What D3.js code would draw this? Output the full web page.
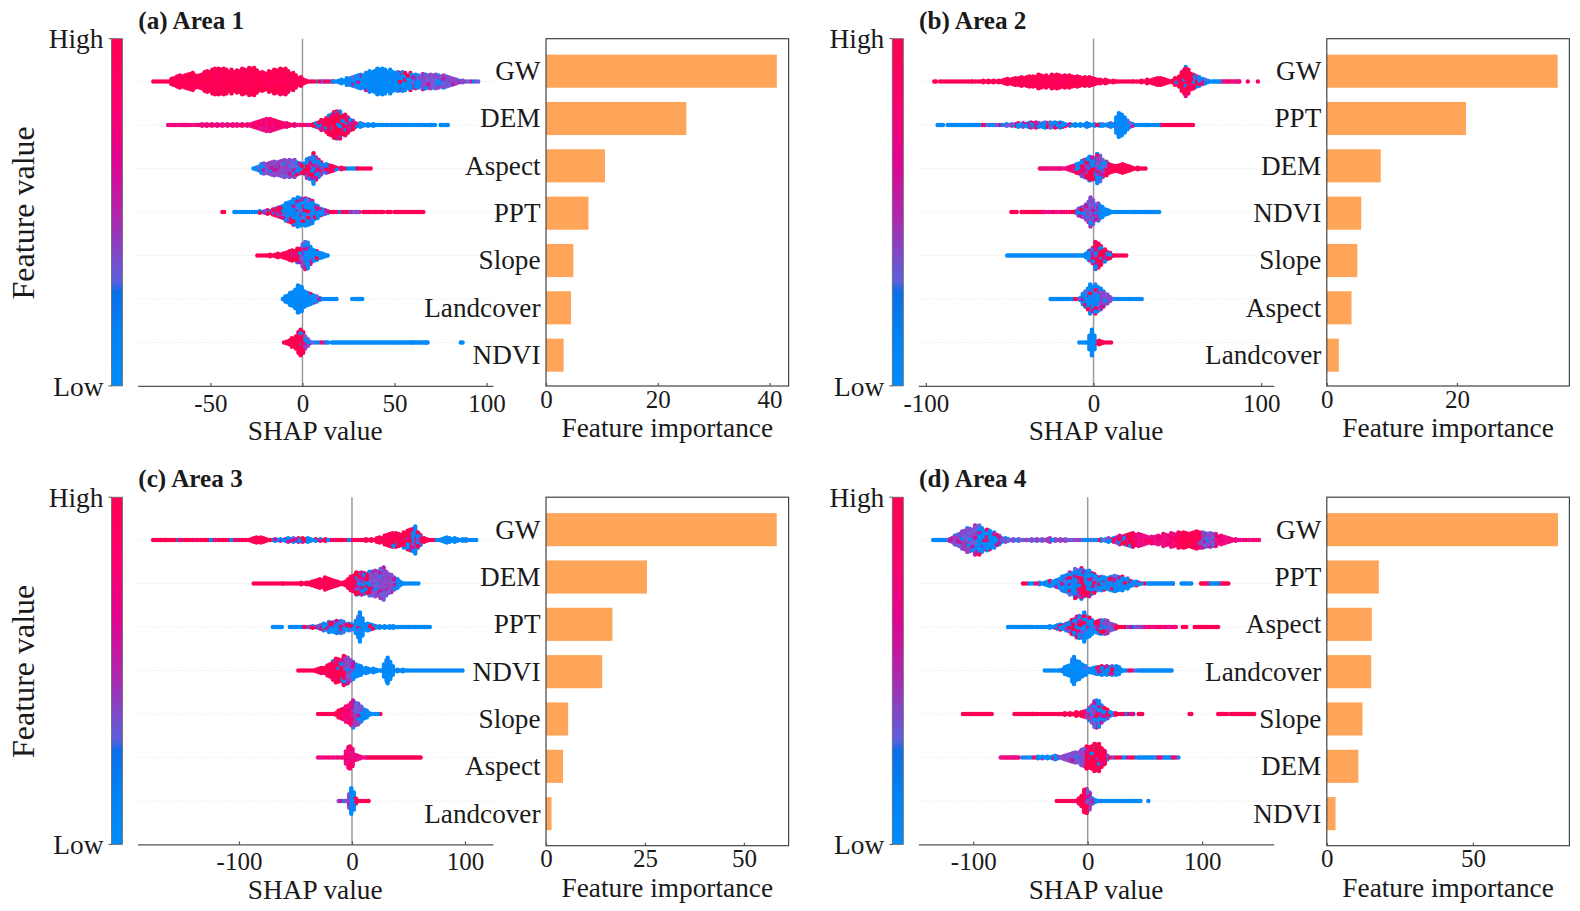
<!DOCTYPE html>
<html><head><meta charset="utf-8">
<script src="https://cdn.jsdelivr.net/npm/d3@7"></script>
<style>
html,body{margin:0;padding:0;background:#fff}
svg{display:block}
text{font-family:"Liberation Serif","Times New Roman",serif;fill:#1a1a1a}
</style></head><body>
<svg id="c" width="1580" height="911"></svg>
<script>
// ---- Feature order and importance (bar charts) ----
const area1Features=["GW","DEM","Aspect","PPT","Slope","Landcover","NDVI"];
const area1Importance=[41.3,25.1,10.55,7.6,4.9,4.47,3.15];
const area2Features=["GW","PPT","DEM","NDVI","Slope","Aspect","Landcover"];
const area2Importance=[35.5,21.4,8.3,5.3,4.7,3.8,1.85];
const area3Features=["GW","DEM","PPT","NDVI","Slope","Aspect","Landcover"];
const area3Importance=[58.3,25.5,16.8,14.2,5.6,4.3,1.4];
const area4Features=["GW","PPT","Aspect","Landcover","Slope","DEM","NDVI"];
const area4Importance=[79.1,17.8,15.4,15.2,12.2,10.8,3.0];
// ---- Tick labels ----
const shapTicks1=[-50,0,50,100], shapTicks2=[-100,0,100], shapTicks3=[-100,0,100], shapTicks4=[-100,0,100];
const impTicks1=[0,20,40], impTicks2=[0,20], impTicks3=[0,25,50], impTicks4=[0,50];
// ---- SHAP swarm outlines: [SHAP value, dots stacked each side of the row, colour mix]
// a stack of -1 marks a stretch without any points up to the next entry.
// mix: R red, K pink, H mostly red, M red+blue, P purple, U mostly blue, B blue
const a1_GW=[[-81,0,"R"],[-74,.1,"R"],[-68,2.4,"R"],[-61,3.3,"R"],[-56,2.8,"R"],[-47,5.5,"R"],[-37,4.4,"R"],[-29,5.7,"R"],[-21,3.7,"R"],[-12,5.3,"R"],[-5,3.5,"R"],[2,.4,"H"],[10,0,"M"],[17,0,"B"],[26,1.7,"U"],[35,3.7,"B"],[42,5.3,"B"],[53,3.7,"U"],[64,2.8,"P"],[71,3,"P"],[78,2.4,"P"],[87,.4,"P"],[95.5,0,"P"]];
const a1_DEM=[[-73,0,"K"],[-63,0,"K"],[-52,.7,"K"],[-37,.4,"K"],[-28,.7,"K"],[-19,2.8,"K"],[-10,1,"K"],[-1,.2,"K"],[6,.4,"M"],[11.5,2.4,"H"],[19,6,"H"],[26,2.4,"M"],[30,.7,"B"],[44,.2,"B"],[70,0,"B"],[72,-1],[75,0,"B"],[76,-1],[77,0,"B"],[79,0,"B"]];
const a1_Aspect=[[-26.6,.4,"U"],[-21,2.4,"P"],[-14,2.8,"P"],[-8.5,4.1,"P"],[-3,3,"U"],[-.4,1.7,"M"],[6,5.7,"M"],[11.5,2,"M"],[17,1,"H"],[24,.2,"B"],[30,.2,"R"],[38,0,"R"]];
const a1_PPT=[[-43.5,0,"R"],[-42.5,-1],[-37,0,"B"],[-36,-1],[-34.5,0,"B"],[-26,.2,"M"],[-16,1,"M"],[-10.5,3,"U"],[-4,5.7,"U"],[4,5.5,"U"],[9.5,1.8,"M"],[17,.2,"H"],[25,0,"P"],[31,-1],[33,0,"R"],[37,-1],[38.5,0,"R"],[41,-1],[42,0,"R"],[44,-1],[46,0,"R"],[48,-1],[50,0,"R"],[66.5,0,"R"]];
const a1_Slope=[[-24.5,0,"R"],[-19,.3,"R"],[-12,.7,"R"],[-7,2,"H"],[-1.3,3,"P"],[1.5,5.7,"U"],[5,3,"U"],[9.5,1,"B"],[15,0,"B"]];
const a1_Landcover=[[-10.7,.4,"B"],[-6.7,2.4,"B"],[-1.8,5.7,"B"],[1.5,3,"U"],[5,2.4,"U"],[9.5,.4,"U"],[15,.1,"B"],[16.5,-1],[17.5,0,"B"],[19,-1],[27,.3,"B"],[30,0,"B"],[31,-1],[31.5,0,"B"],[32.5,0,"B"]];
const a1_NDVI=[[-10,0,"R"],[-5,2,"R"],[-1,5.5,"H"],[1.5,3,"P"],[4,.4,"U"],[13,0,"B"],[14.5,-1],[16,0,"B"],[52,0,"B"],[53,-1],[54,0,"B"],[59,0,"B"],[60,-1],[61,0,"B"],[67,0,"B"],[68,-1],[86,0,"B"],[87.5,0,"B"]];

const a2_GW=[[-95,0,"R"],[-93.5,-1],[-91.5,0,"R"],[-72,.1,"R"],[-56,.7,"R"],[-46,1.7,"R"],[-36,2.4,"R"],[-28,2.7,"R"],[-16,2.4,"R"],[-4,2,"R"],[4,1,"R"],[14,.2,"R"],[24,0,"R"],[32,.7,"R"],[40,1.7,"R"],[45.5,.4,"R"],[49.5,1.7,"H"],[55,5.7,"H"],[60,3,"M"],[65,1,"U"],[72,0,"B"],[76,0,"K"],[87,0,"K"],[88,-1],[92,0,"K"],[93,-1],[98,0,"K"],[99,0,"K"]];
const a2_PPT=[[-93,0,"B"],[-89.5,-1],[-87,0,"B"],[-68,0,"U"],[-58,.2,"P"],[-48,.7,"M"],[-42,1,"M"],[-32,1,"U"],[-23,1.4,"U"],[-14,.4,"U"],[-4,.7,"U"],[4,.3,"U"],[12,.7,"U"],[15.3,5.7,"B"],[18.7,3,"U"],[24,.4,"B"],[32,.2,"B"],[40,0,"R"],[59.5,0,"R"]];
const a2_DEM=[[-32,0,"K"],[-20,0,"K"],[-10,1.7,"M"],[-4,4.1,"M"],[2.4,5.7,"P"],[7.7,2.8,"R"],[12.7,1,"R"],[17.3,2,"R"],[21.7,.7,"R"],[31.6,0,"R"]];
const a2_NDVI=[[-49,0,"R"],[-45,-1],[-43,0,"R"],[-30,0,"K"],[-16,.1,"H"],[-12,.3,"M"],[-6,2.4,"P"],[-1.8,5.7,"P"],[3.8,2.8,"B"],[9.7,.4,"B"],[23,0,"B"],[39.6,0,"B"]];
const a2_Slope=[[-51.5,0,"B"],[-14,0,"B"],[-6,0,"B"],[-2,2.4,"M"],[1.4,5.7,"H"],[6.8,2.4,"M"],[11.7,.1,"R"],[19.7,0,"R"]];
const a2_Aspect=[[-25.6,0,"B"],[-14,0,"M"],[-8,.7,"U"],[-2,5.7,"U"],[2.8,5,"P"],[6.8,3,"P"],[11.7,.1,"B"],[30,0,"B"]];
const a2_Landcover=[[-8.5,0,"B"],[-4,.1,"B"],[-1,5.7,"B"],[1.8,1,"R"],[5.8,.4,"R"],[11.7,0,"R"]];

const a3_GW=[[-176,0,"R"],[-164,0,"H"],[-123,.3,"H"],[-96,.1,"R"],[-83,1.3,"R"],[-72.6,.3,"U"],[-46,.9,"M"],[-28,.4,"H"],[1,.1,"R"],[22,.7,"R"],[36.6,3,"H"],[47,3,"M"],[56,5.7,"M"],[61.6,1,"R"],[75,0,"B"],[84,1.2,"B"],[98.5,.4,"B"],[112,0,"B"]];
const a3_DEM=[[-87,0,"R"],[-61,.1,"R"],[-40,.5,"R"],[-22,2.5,"R"],[-8,.4,"R"],[4,4.4,"M"],[16,4.7,"P"],[28,6,"P"],[38,2.4,"U"],[45,.1,"B"],[60,0,"B"]];
const a3_PPT=[[-70,0,"B"],[-61,-1],[-55,0,"B"],[-49,0,"M"],[-37,.1,"M"],[-25,1.5,"U"],[-12,2.8,"U"],[1,1,"U"],[7,5.7,"B"],[11.5,1.7,"U"],[22,.4,"B"],[36.6,.4,"B"],[45,0,"B"],[69,0,"B"]];
const a3_NDVI=[[-47.5,0,"R"],[-34,.1,"R"],[-24,1.5,"R"],[-16.5,4.1,"H"],[-6,5.7,"P"],[1,3.7,"B"],[10,1,"B"],[19,.7,"B"],[26,.1,"B"],[31.6,5.7,"B"],[38,.4,"B"],[100,0,"B"]];
const a3_Slope=[[-30,0,"R"],[-16.5,.4,"R"],[-7.7,2.4,"K"],[1,5.7,"P"],[8.5,3,"U"],[16,.4,"M"],[27,0,"R"]];
const a3_Aspect=[[-30,0,"K"],[-7.7,.3,"K"],[-1.8,5.7,"K"],[2.7,1.5,"K"],[13,0,"R"],[48,0,"R"],[61.7,0,"R"]];
const a3_Landcover=[[-11.8,0,"P"],[-4.7,0,"P"],[-.6,5.7,"B"],[3.5,1.5,"R"],[5.6,.1,"R"],[16,0,"R"]];

const a4_GW=[[-135,0,"B"],[-123,0,"P"],[-112,3.3,"P"],[-97,5.7,"U"],[-84,3.7,"U"],[-74,.7,"P"],[-53.5,.3,"P"],[-33,.7,"P"],[-4,.1,"U"],[16,.4,"M"],[28,1.7,"H"],[40,2.8,"K"],[57,1.5,"K"],[77,3,"R"],[98,3.3,"P"],[112,2.4,"K"],[127,.4,"K"],[150,0,"K"]];
const a4_PPT=[[-56.5,.1,"M"],[-42,.4,"U"],[-27,1.5,"U"],[-10,5.7,"M"],[-1,5.7,"U"],[10,2.8,"U"],[28,3,"U"],[42.5,.7,"U"],[54,0,"B"],[74.5,0,"R"],[76,-1],[82,0,"B"],[88,-1],[89,0,"B"],[92,-1],[99,0,"R"],[106,0,"B"],[115,0,"R"],[124,0,"R"]];
const a4_Aspect=[[-69.6,0,"B"],[-48,0,"B"],[-33,.4,"U"],[-18.6,1.5,"M"],[-3,5.7,"U"],[4.7,2.4,"M"],[15,3,"P"],[25,.7,"H"],[33,0,"P"],[50,0,"K"],[77,0,"R"],[78,-1],[83,0,"R"],[87.6,-1],[93.5,0,"R"],[114,0,"R"]];
const a4_Landcover=[[-37.5,0,"B"],[-24.5,.4,"B"],[-15.7,2.4,"B"],[-12,5.7,"B"],[-4,2.4,"U"],[3,.7,"U"],[10,1.7,"U"],[25,2,"B"],[34,.1,"U"],[45,0,"B"],[74.5,0,"B"]];
const a4_Slope=[[-109,0,"R"],[-83,-1],[-64,0,"R"],[-48,0,"R"],[-24.5,.3,"R"],[-10,.7,"R"],[-1,1.7,"P"],[7.6,6,"U"],[15,2.4,"M"],[22,.7,"R"],[33,0,"M"],[40,0,"B"],[41,-1],[44.5,0,"R"],[48,-1],[89,0,"R"],[91,-1],[114,0,"R"],[122,-1],[125,0,"R"],[146,0,"R"]];
const a4_DEM=[[-76,0,"K"],[-59,-1],[-57,0,"U"],[-42,.4,"U"],[-24.5,.7,"P"],[-10,2.4,"P"],[-1,4.1,"H"],[7.6,6,"H"],[15,2.8,"M"],[19,.1,"M"],[45,0,"U"],[62,0,"U"],[80,0,"B"]];
const a4_NDVI=[[-27,0,"R"],[-10,.1,"R"],[-.6,5.7,"P"],[4.7,1,"U"],[10.5,.1,"B"],[39,0,"B"],[42,-1],[43,0,"B"],[47,-1],[53,0,"B"],[54,0,"B"]];

const mixes={
 R:["#ff0051","#ff0257","#ff0051","#f8055e"],
 K:["#f0087e","#fa0468","#e80c8c","#f5066f"],
 H:["#ff0051","#ff0051","#ff0051","#008bfb","#ff0051","#e00a80","#ff0051","#ff0051"],
 M:["#ff0051","#008bfb","#c8149c","#008bfb","#ff0051","#7a4bd0","#008bfb","#ff0051"],
 P:["#8a48cc","#008bfb","#a438b8","#6a60dc","#c0189f","#8a48cc","#8a48cc","#6a60dc"],
 U:["#008bfb","#008bfb","#ff0051","#008bfb","#5a6ae6","#008bfb","#008bfb","#008bfb","#c8149c","#008bfb"],
 B:["#008bfb","#008bfb","#0a84f5"]
};
const barStops=[[0,"#ff0051"],[.2,"#fb0070"],[.35,"#e00390"],[.52,"#ad28b0"],[.62,"#8048c8"],[.7,"#5b60dc"],[.73,"#0a6fe8"],[.85,"#0082f4"],[1,"#008bfb"]];

const panels=[
 {title:"(a) Area 1",left:137.5,top:38.7,shapDom:[-89.6,103.5],impMax:43.4,feat:area1Features,imp:area1Importance,shapTicks:shapTicks1,impTicks:impTicks1,rows:[a1_GW,a1_DEM,a1_Aspect,a1_PPT,a1_Slope,a1_Landcover,a1_NDVI],axisLabel:true},
 {title:"(b) Area 2",left:918.3,top:38.7,shapDom:[-104.5,107.5],impMax:37.3,feat:area2Features,imp:area2Importance,shapTicks:shapTicks2,impTicks:impTicks2,rows:[a2_GW,a2_PPT,a2_DEM,a2_NDVI,a2_Slope,a2_Aspect,a2_Landcover]},
 {title:"(c) Area 3",left:137.5,top:497.2,shapDom:[-189.8,124.8],impMax:61.3,feat:area3Features,imp:area3Importance,shapTicks:shapTicks3,impTicks:impTicks3,rows:[a3_GW,a3_DEM,a3_PPT,a3_NDVI,a3_Slope,a3_Aspect,a3_Landcover],axisLabel:true},
 {title:"(d) Area 4",left:918.3,top:497.2,shapDom:[-148,162.6],impMax:83,feat:area4Features,imp:area4Importance,shapTicks:shapTicks4,impTicks:impTicks4,rows:[a4_GW,a4_PPT,a4_Aspect,a4_Landcover,a4_Slope,a4_DEM,a4_NDVI]}
];

const svg=d3.select("#c");
const defs=svg.append("defs");
const grad=defs.append("linearGradient").attr("id","fv").attr("x1",0).attr("x2",0).attr("y1",0).attr("y2",1);
grad.selectAll("stop").data(barStops).join("stop").attr("offset",d=>d[0]).attr("stop-color",d=>d[1]);
defs.append("filter").attr("id","soft").attr("x","-2%").attr("y","-2%").attr("width","104%").attr("height","104%")
  .append("feGaussianBlur").attr("stdDeviation",0.4);

const axisColor="#555", H=347.2, W=355.5, PITCH=2.5, STEP=2.6, LANE=1.7, R=2.2;
const frac=v=>v-Math.floor(v);
function style(g){g.selectAll("path,line").attr("stroke",axisColor).attr("stroke-width",1.2);g.selectAll("text").attr("fill","#222").attr("font-family",'"Liberation Serif",serif');}

// Lays the dots of one row out inside its outline, staggered column by column, and
// draws them in a scattered order so that they overlap the way a beeswarm does.
function swarmPoints(row,x){
  const pts=[];let col=0;
  for(let i=0;i<row.length-1;i++){
    const a=row[i],b=row[i+1];
    if(a[1]<0)continue;
    const x0=x(a[0]),x1=x(b[0]);
    const last=i===row.length-2;
    const step=a[1]===0&&(b[1]<=0)?Math.min(STEP,1.8):STEP;
    for(let px=x0;px<(last?x1+.01:x1);px+=step){
      const t=(px-x0)/Math.max(x1-x0,.01);
      const s=a[1]+t*((b[1]<0?a[1]:b[1])-a[1]);
      const e=s*PITCH*(.88+.24*frac(col*.618));
      const off=col%2?LANE/2:0;
      const lanes=[];
      if(e<LANE/2) lanes.push(0);
      else for(let l=off;l<=e+.01;l+=LANE){lanes.push(l);if(l>0)lanes.push(-l);}
      const pal=mixes[a[2]];
      lanes.forEach((l,j)=>{
        const h=frac(col*.618034+j*.381966+col*j*.1373+l*.0713);
        pts.push({shap:x.invert(px),off:l,fill:pal[Math.floor(h*pal.length)],ord:frac(pts.length*.754877)});
      });
      col++;
    }
  }
  return pts.sort((p,q)=>p.ord-q.ord);
}

panels.forEach(p=>{
  const g=svg.append("g");
  const bottom=p.top+H;
  const x=d3.scaleLinear().domain(p.shapDom).range([p.left,p.left+W]);
  const y=d3.scalePoint().domain(p.feat).range([p.top+42.8,p.top+42.8+6*43.5]);
  g.append("text").attr("x",p.left+.8).attr("y",p.top-9.8).attr("font-size",25.2).attr("font-weight","bold").attr("fill","#111").text(p.title);
  const cbx=p.left-26;
  g.append("rect").attr("x",cbx).attr("y",p.top).attr("width",11).attr("height",H).attr("fill","url(#fv)").attr("stroke","#666").attr("stroke-width",.8);
  [p.top,bottom].forEach(v=>g.append("line").attr("x1",cbx-3).attr("x2",cbx).attr("y1",v).attr("y2",v).attr("stroke","#555"));
  g.append("text").attr("x",p.left-34).attr("y",p.top+9.6).attr("text-anchor","end").attr("font-size",27.4).text("High");
  g.append("text").attr("x",p.left-34).attr("y",bottom+9.6).attr("text-anchor","end").attr("font-size",27.4).text("Low");
  if(p.axisLabel){
    g.append("text").attr("transform",`translate(34,${p.top+H/2+.5})rotate(-90)`).attr("text-anchor","middle").attr("font-size",32).text("Feature value");
  }
  g.selectAll(".guide").data(p.feat).join("line").attr("x1",p.left).attr("x2",p.left+W).attr("y1",d=>y(d)).attr("y2",d=>y(d)).attr("stroke","#ddd").attr("stroke-width",.7).attr("stroke-dasharray","1,2");
  g.append("line").attr("x1",x(0)).attr("x2",x(0)).attr("y1",p.top).attr("y2",bottom).attr("stroke","#9a9a9a").attr("stroke-width",1.5);
  const sw=g.append("g").attr("filter","url(#soft)");
  p.rows.forEach((row,i)=>{
    sw.append("g").selectAll("circle").data(swarmPoints(row,x)).join("circle")
      .attr("cx",d=>x(d.shap)).attr("cy",d=>y(p.feat[i])+d.off).attr("r",R).attr("fill",d=>d.fill);
  });
  const ax=g.append("g").attr("transform",`translate(0,${bottom})`).call(d3.axisBottom(x).tickValues(p.shapTicks).tickFormat(d=>String(d)).tickSizeInner(-3).tickSizeOuter(0).tickPadding(8));
  style(ax);ax.selectAll("text").attr("font-size",25);
  g.append("text").attr("x",p.left+177.7).attr("y",bottom+54.5).attr("text-anchor","middle").attr("font-size",27.3).text("SHAP value");
  const bl=p.left+408.5, bw=242.6, bh=p.top>100?348.5:347.3;
  const bx=d3.scaleLinear().domain([0,p.impMax]).range([bl,bl+bw]);
  const by=d3.scaleBand().domain(p.feat).range([p.top+8.8,p.top+8.8+7*47.33]).paddingInner(.3).paddingOuter(.15);
  g.selectAll(".bar").data(p.feat).join("rect").attr("x",bl).attr("y",d=>by(d)).attr("width",(d,i)=>bx(p.imp[i])-bl).attr("height",by.bandwidth()).attr("fill","#ffa55a");
  g.append("rect").attr("x",bl).attr("y",p.top).attr("width",bw).attr("height",bh).attr("fill","none").attr("stroke","#444").attr("stroke-width",1.2);
  g.selectAll(".name").data(p.feat).join("text").attr("x",bl-5.5).attr("y",d=>by(d)+by.bandwidth()/2).attr("dy",".33em").attr("text-anchor","end").attr("font-size",27.2).text(d=>d);
  const bax=g.append("g").attr("transform",`translate(0,${p.top+bh})`).call(d3.axisBottom(bx).tickValues(p.impTicks).tickFormat(d=>String(d)).tickSizeInner(-3).tickSizeOuter(0).tickPadding(4));
  style(bax);bax.select("path").remove();bax.selectAll("text").attr("font-size",25);
  g.append("text").attr("x",bl+bw/2).attr("y",p.top+bh+50.8).attr("text-anchor","middle").attr("font-size",27.3).text("Feature importance");
});
</script></body></html>
